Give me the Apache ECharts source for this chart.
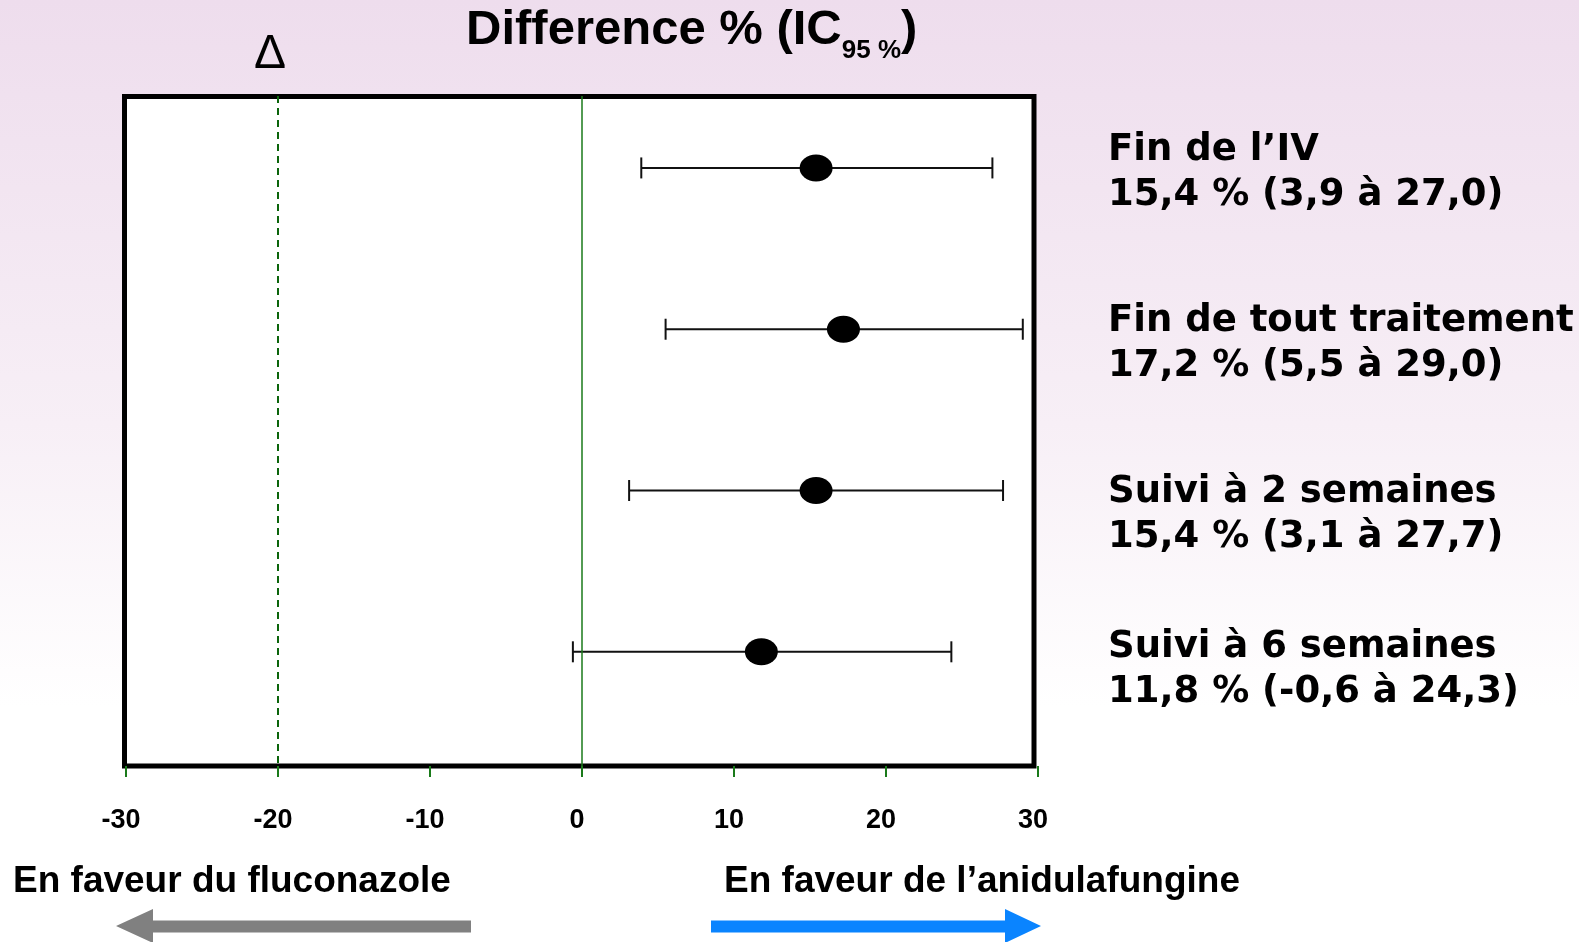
<!DOCTYPE html>
<html>
<head>
<meta charset="utf-8">
<script src="https://cdn.jsdelivr.net/npm/echarts@6/dist/echarts.min.js"></script>
<style>html,body{margin:0;padding:0;overflow:hidden;} #main{width:1579px;height:942px;}</style>
</head>
<body>
<div id="main"></div>
<script>
// ---- data ----
const categories = ['Fin de l\u2019IV', 'Fin de tout traitement', 'Suivi \u00e0 2 semaines', 'Suivi \u00e0 6 semaines'];
const estimates = [15.4, 17.2, 15.4, 11.8];
const lowerCI = [3.9, 5.5, 3.1, -0.6];
const upperCI = [27.0, 29.0, 27.7, 24.3];
const xTickLabels = [-30, -20, -10, 0, 10, 20, 30];
const deltaMargin = -20;
const titleMain = 'Difference % (IC';
const titleSub = '95 %';
const leftCaption = 'En faveur du fluconazole';
const rightCaption = 'En faveur de l\u2019anidulafungine';

// ---- layout ----
const labelTops = [128, 299, 470, 625];

const fmt = v => v.toFixed(1).replace('.', ',');
const rows = categories.map((_, i) => i);

const chart = echarts.init(document.getElementById('main'));

function renderBar(params, api) {
  const y = api.value(2);
  const p1 = api.coord([api.value(0), y]);
  const p2 = api.coord([api.value(1), y]);
  const cap = 10.5;
  const st = { stroke: '#111', lineWidth: 2 };
  return {
    type: 'group',
    children: [
      { type: 'line', shape: { x1: p1[0], y1: p1[1], x2: p2[0], y2: p2[1] }, style: st },
      { type: 'line', shape: { x1: p1[0], y1: p1[1] - cap, x2: p1[0], y2: p1[1] + cap }, style: st },
      { type: 'line', shape: { x1: p2[0], y1: p2[1] - cap, x2: p2[0], y2: p2[1] + cap }, style: st }
    ]
  };
}

const graphics = [
  {
    type: 'text', left: 466, top: -4,
    style: {
      text: '{m|' + titleMain + '}{s|' + titleSub + '}{m|)}',
      rich: {
        m: { fontSize: 49, fontWeight: 'bold', fontFamily: 'Liberation Sans', lineHeight: 68, fill: '#000' },
        s: { fontSize: 26, fontWeight: 'bold', fontFamily: 'Liberation Sans', lineHeight: 26, verticalAlign: 'top', padding: [42, 0, 0, 0], fill: '#000' }
      }
    }
  },
  {
    type: 'text', x: 270, y: 55,
    style: { text: '\u0394', fontSize: 48, fontFamily: 'Liberation Sans', fill: '#000', align: 'center', verticalAlign: 'middle' }
  },
  {
    type: 'text', x: 13, y: 882,
    style: { text: leftCaption, fontSize: 37, fontWeight: 'bold', fontFamily: 'Liberation Sans', fill: '#000', align: 'left', verticalAlign: 'middle' }
  },
  {
    type: 'text', x: 724, y: 882,
    style: { text: rightCaption, fontSize: 37, fontWeight: 'bold', fontFamily: 'Liberation Sans', fill: '#000', align: 'left', verticalAlign: 'middle' }
  },
  {
    type: 'polygon',
    shape: { points: [[116, 926], [153, 909], [153, 920.5], [471, 920.5], [471, 932.5], [153, 932.5], [153, 943]] },
    style: { fill: '#808080' }
  },
  {
    type: 'polygon',
    shape: { points: [[711, 920.5], [1005, 920.5], [1005, 909], [1041, 926], [1005, 943], [1005, 932.5], [711, 932.5]] },
    style: { fill: '#0a84ff' }
  }
];
rows.forEach(i => {
  graphics.push({
    type: 'text', x: 1108, y: labelTops[i],
    style: {
      text: categories[i] + '\n' + fmt(estimates[i]) + ' % (' + fmt(lowerCI[i]) + ' \u00e0 ' + fmt(upperCI[i]) + ')',
      fontSize: 37, fontWeight: 'bold', fontFamily: 'DejaVu Sans', lineHeight: 45, fill: '#000',
      align: 'left', verticalAlign: 'top'
    }
  });
});

const option = {
  animation: false,
  backgroundColor: {
    type: 'linear', x: 0, y: 0, x2: 0, y2: 1,
    colorStops: [
      { offset: 0, color: '#eedded' },
      { offset: 0.45, color: '#f7eff6' },
      { offset: 0.75, color: '#ffffff' },
      { offset: 1, color: '#ffffff' }
    ]
  },
  grid: [
    { left: 126, right: 541, top: 96, bottom: 176, show: false },
    { left: 124.5, right: 545, top: 96.5, bottom: 176, show: true, backgroundColor: '#ffffff', borderColor: '#000', borderWidth: 5, z: 0 }
  ],
  xAxis: [
    {
      gridIndex: 0, type: 'value', min: xTickLabels[0], max: xTickLabels[xTickLabels.length - 1], interval: 10,
      axisLine: { show: false, onZero: false },
      axisTick: { show: true, length: 11, lineStyle: { color: '#1a7a1a', width: 2 } },
      splitLine: { show: false },
      axisLabel: {
        margin: 41, color: '#000', fontFamily: 'Liberation Sans', fontWeight: 'bold', fontSize: 27,
        padding: [0, 10, 0, 0]
      }
    },
    { gridIndex: 1, type: 'value', show: false }
  ],
  yAxis: [
    { gridIndex: 0, type: 'value', inverse: true, min: -0.446, max: 3.708, show: false },
    { gridIndex: 1, type: 'value', show: false }
  ],
  series: [
    {
      type: 'custom',
      xAxisIndex: 0, yAxisIndex: 0,
      renderItem: renderBar,
      data: rows.map(i => [lowerCI[i], upperCI[i], i]),
      encode: { x: [0, 1], y: 2 },
      z: 3
    },
    {
      type: 'scatter',
      xAxisIndex: 0, yAxisIndex: 0,
      data: rows.map(i => [estimates[i], i]),
      symbol: 'circle',
      symbolSize: [33, 27],
      itemStyle: { color: '#000', opacity: 1 },
      z: 4,
      markLine: {
        silent: true,
        symbol: ['none', 'none'],
        label: { show: false },
        data: [
          { xAxis: 0, lineStyle: { color: '#1a7a1a', width: 1.5, type: 'solid', opacity: 1 } },
          { xAxis: deltaMargin, lineStyle: { color: '#0b640b', width: 2, type: [7, 5], opacity: 1 } }
        ]
      }
    }
  ],
  graphic: graphics
};
chart.setOption(option);
</script>
</body>
</html>
